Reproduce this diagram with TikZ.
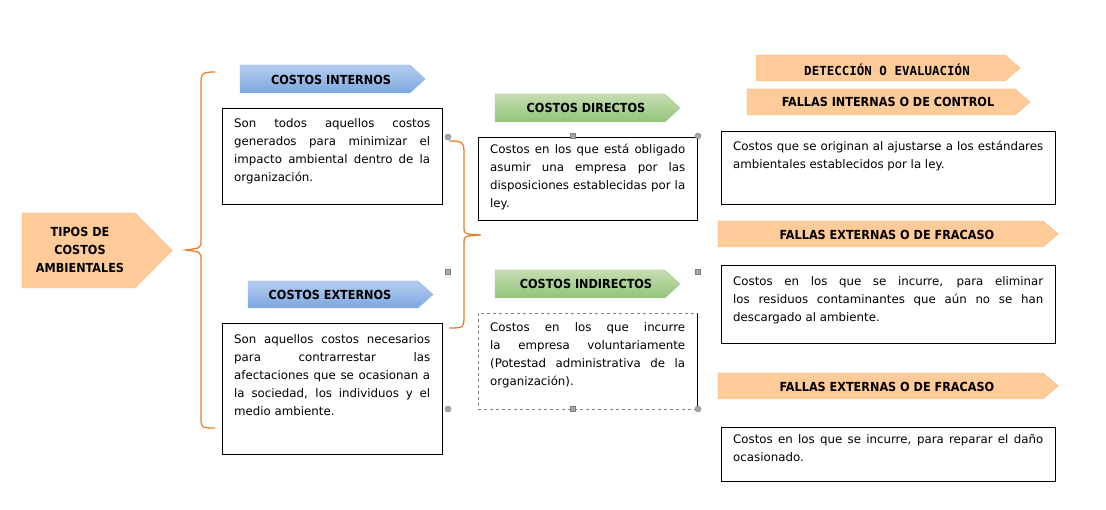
\documentclass[tikz,border=0pt]{standalone}
\usepackage{fontspec}
\setmainfont{DejaVu Sans}
\newfontfamily\hdr{DejaVu Sans Condensed}
\newfontfamily\monob{DejaVu Sans Mono}
\usetikzlibrary{calc}
\definecolor{orfill}{HTML}{FFCC99}
\definecolor{orline}{HTML}{F4B183}
\definecolor{brace}{HTML}{ED7D31}
\definecolor{bluetop}{HTML}{B4CDEE}
\definecolor{bluebot}{HTML}{7DA7E0}
\definecolor{blueline}{HTML}{8EB4E3}
\definecolor{greentop}{HTML}{C5DDB0}
\definecolor{greenbot}{HTML}{93C47D}
\definecolor{greenline}{HTML}{A9D18E}
\tikzset{x=1pt,y=-1pt,
 txt/.style={align=justify,font=\fontsize{11.8}{18}\selectfont,execute at begin node={\hyphenpenalty=10000\relax\exhyphenpenalty=10000\relax},inner sep=0pt,anchor=north west},
 box/.style={draw=black,line width=0.8pt},
 hd/.style={font=\hdr\bfseries\fontsize{12.5}{14}\selectfont},
 bluef/.style={top color=bluetop,bottom color=bluebot,draw=blueline},
 greenf/.style={top color=greentop,bottom color=greenbot,draw=greenline},
 orf/.style={fill=orfill,draw=orline},
 brc/.style={draw=brace,line width=1.3pt},
 hsq/.style={fill=gray!70,draw=gray,minimum size=5pt,inner sep=0pt},
 hci/.style={circle,fill=gray!70,draw=gray,minimum size=6pt,inner sep=0pt}}
\newcommand{\arrowshape}[6]{% style, x1,y1,x2,y2,tip
 \path[#1] (#2,#3) -- (#4-#6,#3) -- (#4,{(#3+#5)/2}) -- (#4-#6,#5) -- (#2,#5) -- cycle;}
\begin{document}
\begin{tikzpicture}
\useasboundingbox (0,0) rectangle (1106,510);
\fill[white] (0,0) rectangle (1106,510);
% main
\arrowshape{orf}{22}{213}{172}{288}{37}
\node[font=\hdr\bfseries\fontsize{12.5}{18}\selectfont,align=center] (tipos) at (80,250) {TIPOS DE\\COSTOS\\AMBIENTALES};
% brace 1
\draw[brc] (215,72) .. controls (200,72) and (201,74) .. (201,90) -- (201,240) .. controls (201,248) .. (186,250) .. controls (201,252) .. (201,260) -- (201,412) .. controls (201,428) and (200,428) .. (215,428);
% left headers
\arrowshape{bluef}{240}{65}{425}{93}{15}
\node[hd] (ci) at (331,80) {COSTOS INTERNOS};
\arrowshape{bluef}{248}{281}{433}{308}{15}
\node[hd] (ce) at (330,295) {COSTOS EXTERNOS};
\draw[box] (222,108) rectangle (442,204);
\node[txt,text width=196pt] (t1) at (234,118) {Son todos aquellos costos generados para minimizar el impacto ambiental dentro de la organización.};
\draw[box] (222,323) rectangle (442,454);
\node[txt,text width=196pt] (t2) at (234,334) {Son aquellos costos necesarios para contrarrestar las afectaciones que se ocasionan a la sociedad, los individuos y el medio ambiente.};
% brace 2
\draw[brc] (449,141) .. controls (464,141) and (464,143) .. (464,155) -- (464,228) .. controls (464,234) .. (481,235) .. controls (464,236) .. (464,242) -- (464,314) .. controls (464,328) and (464,328) .. (449,328);
% middle
\arrowshape{greenf}{495}{94}{680}{122}{15}
\node[hd] (cd) at (586,108) {COSTOS DIRECTOS};
\arrowshape{greenf}{495}{270}{680}{298}{15}
\node[hd] (cin) at (586,284) {COSTOS INDIRECTOS};
\draw[box] (478,137) rectangle (697,220);
\node[txt,text width=195pt] (t3) at (490,144) {Costos en los que está obligado asumir una empresa por las disposiciones establecidas por la ley.};
\draw[gray,dashed,line width=0.6pt] (478,313) rectangle (697,409);
\draw[black,line width=0.8pt] (697,313) -- (697,409);
\node[txt,text width=195pt] (t4) at (490,322) {Costos en los que incurre la empresa voluntariamente (Potestad administrativa de la organización).};
% handles
\node[hci] (h1) at (448,137) {};
\node[hsq] (h2) at (573,136) {};
\node[hci] (h3) at (698,136) {};
\node[hsq] (h4) at (448,272) {};
\node[hsq] (h5) at (698,272) {};
\node[hci] (h6) at (448,409) {};
\node[hsq] (h7) at (573,409) {};
\node[hci] (h8) at (698,409) {};
% right
\arrowshape{orf}{756}{55}{1020}{81}{15}
\node[font=\monob\bfseries\fontsize{12.5}{14}\selectfont] (de) at (887,70) {DETECCIÓN O EVALUACIÓN};
\arrowshape{orf}{747}{89}{1030}{115}{15}
\node[hd] (fi) at (888,102) {FALLAS INTERNAS O DE CONTROL};
\draw[box] (721,131) rectangle (1055,204);
\node[txt,text width=310pt] (t5) at (733,141) {Costos que se originan al ajustarse a los estándares ambientales establecidos por la ley.};
\arrowshape{orf}{718}{221}{1058}{247}{15}
\node[hd] (fe1) at (887,235) {FALLAS EXTERNAS O DE FRACASO};
\draw[box] (721,265) rectangle (1055,343);
\node[txt,text width=310pt] (t6) at (733,276) {Costos en los que se incurre, para eliminar los residuos contaminantes que aún no se han descargado al ambiente.};
\arrowshape{orf}{718}{373}{1058}{399}{15}
\node[hd] (fe2) at (887,387) {FALLAS EXTERNAS O DE FRACASO};
\draw[box] (721,427) rectangle (1055,481);
\node[txt,text width=310pt] (t7) at (733,434) {Costos en los que se incurre, para reparar el daño ocasionado.};
\end{tikzpicture}
\end{document}
